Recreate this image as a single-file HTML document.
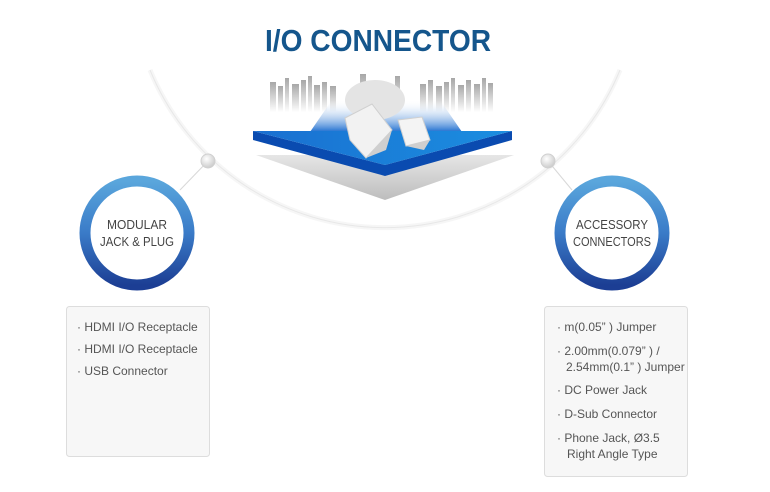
<!DOCTYPE html>
<html><head><meta charset="utf-8"><style>
html,body{margin:0;padding:0;background:#fff;}
svg{display:block;}
text{font-family:"Liberation Sans",sans-serif;}
</style></head><body>
<svg width="770" height="492" viewBox="0 0 770 492" xmlns="http://www.w3.org/2000/svg">
<defs>
<linearGradient id="ring" x1="0" y1="0" x2="0" y2="1">
<stop offset="0" stop-color="#5aa6dc"/><stop offset="0.5" stop-color="#3a7bc8"/><stop offset="1" stop-color="#1c3e94"/>
</linearGradient>
<linearGradient id="blue" x1="0" y1="0" x2="1" y2="0">
<stop offset="0" stop-color="#1a6fd0"/><stop offset="1" stop-color="#1b8ee0"/>
</linearGradient>
<linearGradient id="ridge" x1="0" y1="0" x2="0" y2="1">
<stop offset="0" stop-color="#ffffff" stop-opacity="0"/><stop offset="1" stop-color="#1f6fd0"/>
</linearGradient>
<linearGradient id="shadow" x1="0" y1="0" x2="0" y2="1">
<stop offset="0" stop-color="#e6e6e6"/><stop offset="1" stop-color="#bdbdbd"/>
</linearGradient>
<linearGradient id="city" x1="0" y1="0" x2="0" y2="1">
<stop offset="0" stop-color="#999"/><stop offset="1" stop-color="#fff"/>
</linearGradient>
<radialGradient id="node" cx="0.4" cy="0.35" r="0.7">
<stop offset="0" stop-color="#ffffff"/><stop offset="1" stop-color="#c8c8c8"/>
</radialGradient>
</defs>
<path d="M150,70 A254,254 0 0 0 620,70" fill="none" stroke="#f6f6f6" stroke-width="5"/>
<path d="M150,70 A254,254 0 0 0 620,70" fill="none" stroke="#e8e8e8" stroke-width="1"/>
<line x1="208" y1="161" x2="180" y2="190" stroke="#d8d8d8" stroke-width="1"/>
<line x1="548" y1="161" x2="572" y2="190" stroke="#d8d8d8" stroke-width="1"/>
<circle cx="208" cy="161" r="7" fill="url(#node)" stroke="#d0d0d0"/>
<circle cx="548" cy="161" r="7" fill="url(#node)" stroke="#d0d0d0"/>
<text x="378" y="51" text-anchor="middle" font-size="31" font-weight="bold" fill="#15568c" textLength="226" lengthAdjust="spacingAndGlyphs">I/O CONNECTOR</text>
<g fill="url(#city)" opacity="0.85">
<rect x="270" y="82" width="6" height="30"/><rect x="278" y="86" width="5" height="26"/><rect x="285" y="78" width="4" height="34"/>
<rect x="292" y="84" width="7" height="28"/><rect x="301" y="80" width="5" height="32"/><rect x="308" y="76" width="4" height="36"/>
<rect x="314" y="85" width="6" height="27"/><rect x="322" y="82" width="5" height="30"/><rect x="330" y="86" width="6" height="26"/>
<rect x="420" y="84" width="6" height="28"/><rect x="428" y="80" width="5" height="32"/><rect x="436" y="86" width="6" height="26"/>
<rect x="444" y="82" width="5" height="30"/><rect x="451" y="78" width="4" height="34"/><rect x="458" y="85" width="6" height="27"/>
<rect x="466" y="80" width="5" height="32"/><rect x="474" y="84" width="6" height="28"/><rect x="482" y="78" width="4" height="34"/>
<rect x="488" y="83" width="5" height="29"/><rect x="360" y="74" width="6" height="38"/><rect x="395" y="76" width="5" height="36"/>
</g>
<polygon points="256,155 514,155 385,200" fill="url(#shadow)"/>
<polygon points="310,132 332,100 440,100 462,132" fill="url(#ridge)"/>
<polygon points="253,131 253,140 385,176 512,140 512,131 385,165" fill="#0a4bb0"/>
<polygon points="253,131 512,131 385,165" fill="url(#blue)"/>
<ellipse cx="375" cy="100" rx="30" ry="20" fill="#e4e4e4"/>
<polygon points="345,118 372,104 392,130 366,158 350,140" fill="#f2f2f2" stroke="#d0d0d0"/>
<polygon points="366,158 392,130 386,150" fill="#cfcfcf"/>
<polygon points="398,120 422,117 430,140 406,146" fill="#f4f4f4" stroke="#d0d0d0"/>
<polygon points="406,146 430,140 424,150" fill="#cfcfcf"/>
<circle cx="137" cy="233" r="52" fill="#fff" stroke="url(#ring)" stroke-width="11"/>
<text x="137" y="229" text-anchor="middle" font-size="12.5" fill="#444" textLength="60" lengthAdjust="spacingAndGlyphs">MODULAR</text>
<text x="137" y="246" text-anchor="middle" font-size="12.5" fill="#444" textLength="74" lengthAdjust="spacingAndGlyphs">JACK &amp; PLUG</text>
<circle cx="612" cy="233" r="52" fill="#fff" stroke="url(#ring)" stroke-width="11"/>
<text x="612" y="229" text-anchor="middle" font-size="12.5" fill="#444" textLength="72" lengthAdjust="spacingAndGlyphs">ACCESSORY</text>
<text x="612" y="246" text-anchor="middle" font-size="12.5" fill="#444" textLength="78" lengthAdjust="spacingAndGlyphs">CONNECTORS</text>
<rect x="66.5" y="306.5" width="143" height="150" rx="3" fill="#f7f7f7" stroke="#dddddd"/>
<rect x="544.5" y="306.5" width="143" height="170" rx="3" fill="#f7f7f7" stroke="#dddddd"/>
<g font-size="12" fill="#555">
<text x="77" y="331">· HDMI I/O Receptacle</text>
<text x="77" y="353">· HDMI I/O Receptacle</text>
<text x="77" y="375">· USB Connector</text>
<text x="557" y="331">· m(0.05” ) Jumper</text>
<text x="557" y="355">· 2.00mm(0.079” ) /</text>
<text x="566" y="371">2.54mm(0.1” ) Jumper</text>
<text x="557" y="394">· DC Power Jack</text>
<text x="557" y="418">· D-Sub Connector</text>
<text x="557" y="442">· Phone Jack, Ø3.5</text>
<text x="567" y="458">Right Angle Type</text>
</g>
</svg>
</body></html>
